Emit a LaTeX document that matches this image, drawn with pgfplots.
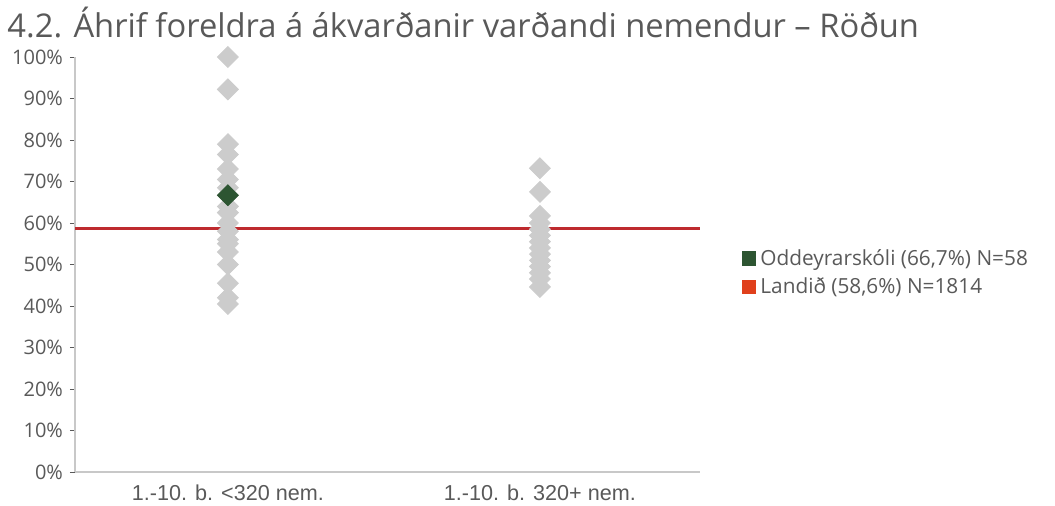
\documentclass[border=0pt]{standalone}
\usepackage{fontspec}
\setmainfont{Open Sans}
\newfontfamily\xfont{Liberation Sans}
\usepackage{pgfplots}
\pgfplotsset{compat=1.18}
\definecolor{gmark}{HTML}{CCCCCC}
\definecolor{dgreen}{HTML}{2D5532}
\definecolor{rline}{HTML}{BE2A2E}
\definecolor{lred}{HTML}{E0401C}
\definecolor{txt}{HTML}{595959}
\definecolor{axl}{HTML}{C8C8C8}
\begin{document}
\begin{tikzpicture}
\useasboundingbox (0,0) rectangle (527.5pt,252.5pt);
\node[anchor=base west, inner sep=0pt, text=txt, font=\fontsize{16.35pt}{18pt}\selectfont] at (3.5pt,233.5pt) {4.2. Áhrif foreldra á ákvarðanir varðandi nemendur – Röðun};
\begin{axis}[
  at={(37.5pt,16.5pt)}, anchor=south west,
  scale only axis, width=312.5pt, height=207.5pt,
  xmin=-0.49, xmax=1.513, ymin=0, ymax=100,
  axis x line*=bottom, axis y line*=left,
  axis line style={draw=axl, line width=0.6pt},
  xtick={0,1}, xticklabels={1.-10. b. <320 nem., 1.-10. b. 320+ nem.},
  x tick label style={font=\xfont\fontsize{10.8pt}{12pt}\selectfont, text=txt, yshift=-0.5pt},
  major x tick style={draw=none},
  ytick={0,10,...,100},
  yticklabel={\pgfmathprintnumber{\tick}\%},
  y tick label style={font=\fontsize{10pt}{11pt}\selectfont, text=txt, xshift=0pt},
  /pgf/number format/assume math mode=true,
  tick align=outside, major tick length=2.5pt,
  major y tick style={draw=txt, line width=0.5pt},
  clip=false,
  legend style={draw=none, fill=none, at={(1.066,0.48)}, anchor=west,
    font=\fontsize{10.4pt}{12pt}\selectfont, text=txt, row sep=0.8pt,
    legend cell align=left, inner sep=0pt},
  legend image code/.code={\fill[#1] (0pt,-3.6pt) rectangle (7.4pt,3.6pt);},
]
\addlegendimage{fill=dgreen, draw=none}
\addlegendentry{Oddeyrarskóli (66,7\%) N=58}
\addlegendimage{fill=lred, draw=none}
\addlegendentry{Landið (58,6\%) N=1814}
\addplot[forget plot, gmark, only marks, mark=square*, mark size=3.7pt, mark options={rotate=45, draw=gmark, fill=gmark}] coordinates {
(0,100) (0,92.2) (0,79) (0,76.5) (0,73) (0,70.5) (0,68.5) (0,66.7) (0,64) (0,62.5) (0,60) (0,58) (0,56) (0,55) (0,53) (0,50) (0,45.5) (0,42) (0,40.5)
(1,73.2) (1,67.5) (1,61.7) (1,60) (1,58.5) (1,57) (1,55.5) (1,54) (1,52.5) (1,51) (1,49.5) (1,48) (1,46.5) (1,44.6)
};
\addplot[forget plot, rline, line width=1.5pt] coordinates {(-0.49,58.6) (1.513,58.6)};
\addplot[forget plot, dgreen, only marks, mark=square*, mark size=3.7pt, mark options={rotate=45, draw=dgreen, fill=dgreen}] coordinates {(0,66.7)};
\end{axis}
\end{tikzpicture}
\end{document}
